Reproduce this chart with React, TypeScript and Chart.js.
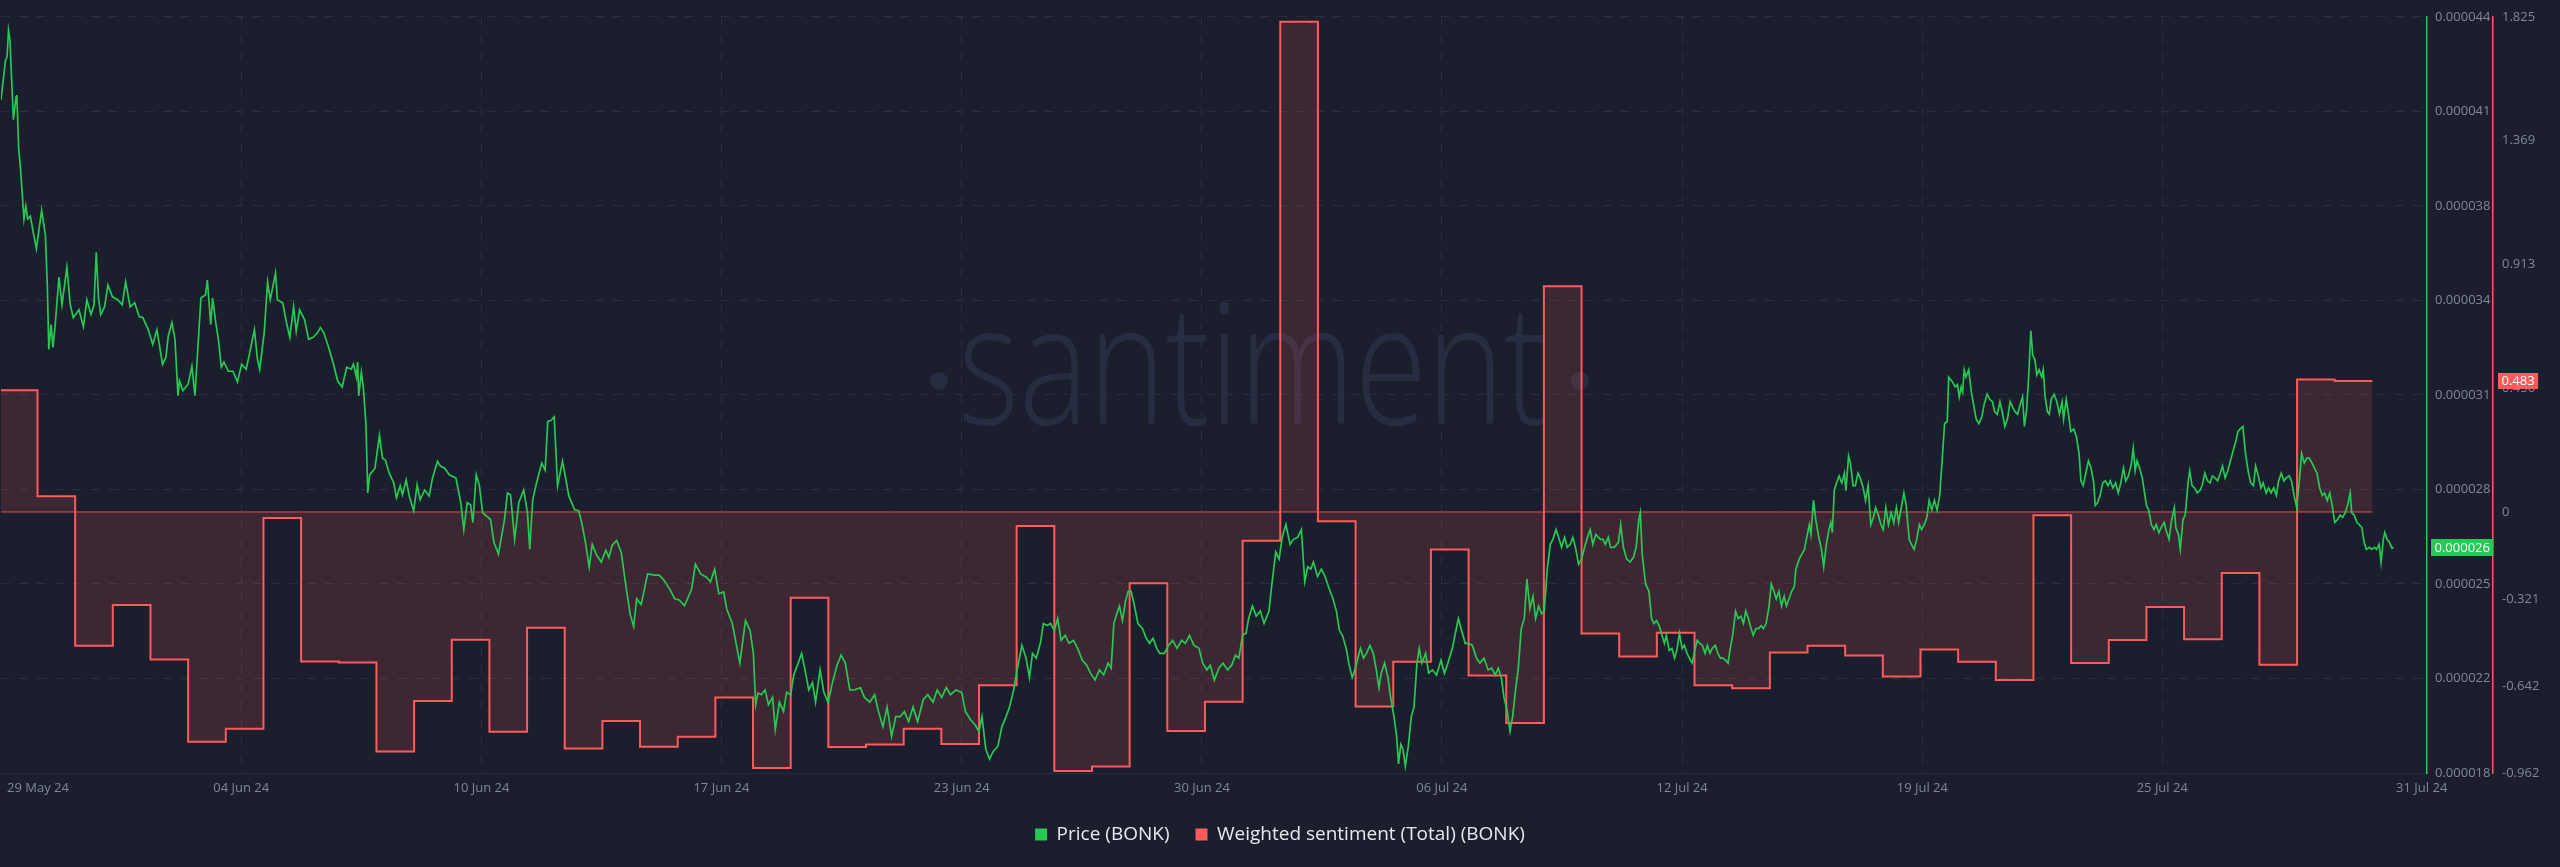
import React, { useEffect, useRef } from 'react';
import { Chart, registerables } from 'chart.js';

Chart.register(...registerables);

const BG = '#1b1e2c';
const GREEN = '#26c953';
const RED = '#ff5b5b';
const GRID = '#2a2e42';
const TICK = '#80869b';

// Price (BONK) in micro-USD (1e-6 USD); [days since 29 May 24 00:00, price]
const pricePoints: [number, number][] = [
[0.03,41.24],[0.15,42.58],[0.19,42.68],[0.23,43.59],[0.27,43.25],[0.31,42.01],[0.36,40.57],[0.43,41.34],[0.45,41.4],[0.50,39.6],[0.55,38.9],[0.64,37.21],[0.69,37.65],[0.74,37.21],[0.81,37.3],[0.88,36.8],[0.97,36.2],[1.11,37.5],[1.21,36.65],[1.26,34.97],[1.30,32.79],[1.36,33.63],[1.41,32.86],[1.47,33.63],[1.57,35.24],[1.65,34.3],[1.78,35.57],[1.87,34.3],[1.95,33.86],[2.10,34.13],[2.22,33.56],[2.31,34.47],[2.42,33.97],[2.50,34.3],[2.56,36.08],[2.62,34.53],[2.68,33.97],[2.78,34.23],[2.87,34.97],[2.99,34.57],[3.13,34.47],[3.25,34.3],[3.34,35.07],[3.46,34.23],[3.58,34.37],[3.70,33.9],[3.80,33.86],[3.94,33.46],[4.06,32.96],[4.17,33.46],[4.32,32.29],[4.41,32.52],[4.47,33.23],[4.57,33.7],[4.65,33.13],[4.73,31.22],[4.77,31.72],[4.86,31.39],[5.00,31.62],[5.10,32.22],[5.18,31.22],[5.34,34.53],[5.46,34.63],[5.51,35.14],[5.60,33.63],[5.65,34.53],[5.73,33.73],[5.81,33.06],[5.88,32.19],[5.95,32.36],[6.07,32.05],[6.19,32.05],[6.31,31.69],[6.42,32.29],[6.54,32.12],[6.61,32.52],[6.76,33.46],[6.84,32.46],[6.90,32.12],[7.02,33.36],[7.11,35.07],[7.18,34.47],[7.32,35.37],[7.37,34.47],[7.51,34.37],[7.61,33.7],[7.70,33.2],[7.80,34.23],[7.87,33.4],[7.96,34.13],[8.09,33.8],[8.20,33.13],[8.32,33.2],[8.44,33.36],[8.51,33.53],[8.60,33.36],[8.73,32.86],[8.86,32.29],[8.97,31.72],[9.09,31.52],[9.21,32.19],[9.33,32.12],[9.39,32.29],[9.47,31.85],[9.50,32.36],[9.53,31.22],[9.60,32.02],[9.65,31.52],[9.72,30.28],[9.74,29.37],[9.77,27.93],[9.82,28.54],[9.96,28.77],[10.08,29.88],[10.16,29.11],[10.24,29.04],[10.34,28.6],[10.46,28.27],[10.53,27.77],[10.63,28.17],[10.69,27.87],[10.79,28.37],[10.87,27.83],[10.99,27.33],[11.08,28.2],[11.16,27.7],[11.28,28.03],[11.40,27.83],[11.49,28.44],[11.62,29.0],[11.70,28.84],[11.81,28.77],[11.94,28.54],[12.11,28.44],[12.24,27.6],[12.32,26.69],[12.41,27.6],[12.50,27.53],[12.56,26.93],[12.65,28.54],[12.73,28.2],[12.82,27.26],[13.03,27.03],[13.12,26.26],[13.24,25.86],[13.40,27.03],[13.48,27.93],[13.56,27.87],[13.67,26.36],[13.78,27.6],[13.91,28.03],[14.01,27.26],[14.07,26.02],[14.15,27.7],[14.25,28.27],[14.39,28.94],[14.48,28.7],[14.55,30.35],[14.63,30.38],[14.72,30.51],[14.81,28.17],[14.94,29.0],[15.11,27.83],[15.26,27.36],[15.37,27.33],[15.45,26.93],[15.55,26.26],[15.65,25.42],[15.73,26.19],[15.85,25.82],[15.97,25.59],[16.09,25.99],[16.17,25.75],[16.26,26.16],[16.38,26.32],[16.50,25.92],[16.62,24.82],[16.74,23.81],[16.83,23.41],[16.91,24.35],[17.03,24.15],[17.20,25.19],[17.39,25.15],[17.51,25.15],[17.63,24.98],[17.80,24.65],[17.92,24.35],[18.04,24.31],[18.18,24.11],[18.37,24.68],[18.47,25.52],[18.61,25.19],
[18.76,25.08],[18.87,24.92],[18.98,25.35],[19.09,24.52],[19.22,24.58],[19.30,24.01],[19.45,23.51],[19.55,22.84],[19.65,22.17],[19.80,23.61],[19.92,23.28],[20.01,22.5],[20.07,20.76],[20.13,21.16],[20.22,21.1],[20.32,21.26],[20.41,20.76],[20.52,21.01],[20.59,19.92],[20.70,20.85],[20.81,20.53],[20.89,21.18],[21.00,21.1],[21.08,21.77],[21.20,22.17],[21.29,22.5],[21.38,21.94],[21.48,21.26],[21.58,21.51],[21.66,20.85],[21.78,21.94],[21.88,21.18],[21.99,20.85],[22.11,21.51],[22.23,22.1],[22.34,22.44],[22.45,22.17],[22.57,21.26],[22.69,21.26],[22.85,21.34],[22.96,21.01],[23.10,20.85],[23.23,21.1],[23.33,20.53],[23.45,20.02],[23.56,20.68],[23.68,19.69],[23.79,20.36],[23.91,20.36],[24.02,20.53],[24.13,20.19],[24.25,20.68],[24.37,20.19],[24.52,20.93],[24.64,21.1],[24.78,20.85],[24.89,21.26],[25.01,21.01],[25.13,21.34],[25.24,21.1],[25.39,21.26],[25.54,21.18],[25.64,20.53],[25.77,20.26],[25.89,20.09],[26.00,19.86],[26.08,20.36],[26.18,19.25],[26.28,18.92],[26.38,19.19],[26.50,19.35],[26.61,20.02],[26.72,20.36],[26.81,20.68],[26.92,21.26],[27.02,22.0],[27.14,22.77],[27.25,22.34],[27.34,21.68],[27.42,22.5],[27.52,22.34],[27.63,22.84],[27.71,23.51],[27.81,23.44],[27.90,23.51],[28.00,23.28],[28.09,23.68],[28.18,22.94],[28.29,23.11],[28.39,22.84],[28.51,22.94],[28.62,22.67],[28.74,22.27],[28.86,22.1],[28.96,21.83],[29.08,21.6],[29.20,21.94],[29.31,21.77],[29.43,22.17],[29.51,22.0],[29.58,23.51],[29.66,23.84],[29.73,24.1],[29.81,23.61],[29.89,24.26],[29.96,24.6],[30.04,24.6],[30.13,24.1],[30.22,23.51],[30.34,23.34],[30.44,23.01],[30.53,22.84],[30.62,23.01],[30.72,22.67],[30.80,22.5],[30.92,22.5],[31.03,22.77],[31.14,22.94],[31.26,22.67],[31.38,22.94],[31.48,22.84],[31.59,23.11],[31.71,22.77],[31.84,22.67],[31.94,22.17],[32.05,21.94],[32.14,22.1],[32.25,21.6],[32.37,22.0],[32.48,22.17],[32.60,21.94],[32.71,22.1],[32.81,22.44],[32.90,22.34],[33.00,23.11],[33.09,23.18],[33.16,23.68],[33.26,24.1],[33.36,23.76],[33.47,23.93],[33.57,23.51],[33.70,23.93],[33.77,24.76],[33.88,25.93],[33.97,25.69],[34.05,26.43],[34.15,26.86],[34.26,26.19],[34.35,26.36],[34.46,26.43],[34.56,26.69],[34.65,24.93],[34.73,25.43],[34.81,25.35],[34.88,25.59],[34.99,25.1],[35.09,25.35],[35.19,25.1],[35.30,24.68],[35.40,24.35],[35.49,23.93],[35.57,23.28],[35.65,23.11],[35.75,22.67],[35.83,22.1],[35.91,21.68],[35.98,21.94],[36.06,22.34],[36.13,22.67],[36.21,22.34],[36.29,22.5],[36.38,22.77],[36.47,22.5],[36.55,21.94],[36.62,21.34],[36.68,21.83],[36.77,22.17],[36.86,21.68],[36.93,21.01],[37.02,20.36],[37.09,19.69],[37.14,18.76],[37.20,19.42],[37.26,19.25],[37.32,18.68],[37.40,19.35],[37.48,20.36],[37.55,20.68],[37.63,22.17],[37.69,22.67],[37.76,22.17],[37.86,22.5],[37.94,21.83],[38.04,21.94],[38.15,21.77],[38.27,22.27],[38.36,21.83],[38.45,22.17],[38.57,22.67],[38.65,23.18],[38.73,23.68],[38.80,23.34],[38.91,22.84],[39.00,22.84],[39.10,22.77],[39.21,22.34],[39.30,22.17],[39.41,22.34],[39.52,21.94],[39.61,22.0],[39.71,21.77],[39.79,22.0],[39.87,21.68],[39.94,21.01],[40.02,20.6],[40.10,19.86],[40.17,20.36],[40.24,21.18],[40.32,22.0],[40.40,23.34],[40.48,23.68],[40.55,25.02],[40.63,24.01],[40.71,24.43],[40.78,23.68],[40.86,24.1],[40.94,23.84],[41.01,23.93],[41.09,25.35],[41.17,26.19],[41.24,26.36],[41.32,26.69],[41.39,26.43],[41.47,26.09],[41.55,26.43],[41.62,26.09],[41.70,26.19],[41.77,26.43],[41.85,26.02],[41.92,25.52],[42.00,25.69],[42.08,26.09],[42.16,26.43],[42.23,26.69],[42.30,26.19],[42.38,26.53],[42.50,26.36],
[42.57,26.36],[42.63,26.19],[42.71,26.43],[42.77,26.09],[42.87,26.09],[42.98,26.26],[43.04,26.86],[43.11,26.09],[43.20,25.69],[43.29,25.59],[43.38,25.75],[43.45,26.09],[43.52,27.02],[43.56,27.26],[43.61,25.86],[43.70,24.85],[43.79,24.6],[43.86,23.68],[43.92,23.51],[43.99,23.61],[44.06,23.44],[44.12,23.18],[44.20,22.84],[44.25,23.11],[44.33,22.6],[44.40,22.67],[44.47,22.34],[44.53,22.6],[44.60,23.18],[44.67,22.67],[44.73,22.77],[44.80,22.5],[44.89,22.27],[44.94,22.17],[44.99,22.5],[45.07,22.94],[45.14,22.84],[45.21,22.77],[45.28,22.5],[45.34,22.77],[45.41,22.5],[45.47,22.67],[45.55,22.77],[45.62,22.5],[45.69,22.34],[45.75,22.34],[45.82,22.27],[45.89,22.17],[45.95,22.67],[46.02,23.18],[46.09,23.93],[46.16,23.68],[46.23,23.76],[46.30,23.51],[46.36,23.93],[46.43,23.68],[46.50,23.34],[46.56,23.11],[46.63,23.34],[46.70,23.34],[46.77,23.44],[46.83,23.34],[46.90,23.51],[46.97,24.01],[47.04,24.85],[47.11,24.6],[47.17,24.35],[47.24,24.6],[47.31,24.1],[47.38,24.43],[47.44,24.1],[47.51,24.35],[47.58,24.6],[47.65,24.76],[47.69,25.35],[47.78,25.69],[47.85,25.86],[47.92,26.02],[47.98,26.43],[48.05,26.86],[48.09,26.53],[48.16,27.68],[48.22,27.02],[48.30,26.43],[48.37,26.02],[48.43,25.43],[48.50,26.19],[48.57,26.69],[48.62,26.93],[48.66,26.59],[48.71,28.01],[48.77,28.27],[48.84,28.51],[48.91,28.27],[48.98,28.6],[49.02,28.01],[49.09,29.18],[49.14,28.94],[49.21,28.18],[49.27,28.18],[49.34,28.6],[49.40,28.44],[49.48,28.1],[49.54,27.68],[49.61,28.18],[49.68,26.86],[49.75,27.1],[49.81,27.43],[49.88,27.18],[49.95,26.86],[50.01,26.69],[50.08,27.43],[50.15,26.86],[50.22,27.26],[50.29,26.93],[50.36,27.43],[50.42,26.93],[50.49,27.43],[50.56,27.93],[50.62,27.51],[50.70,26.36],[50.76,26.19],[50.83,26.02],[50.90,26.36],[50.97,26.86],[51.03,26.69],[51.10,26.86],[51.17,27.1],[51.23,27.68],[51.30,27.35],[51.37,27.68],[51.44,27.35],[51.51,27.85],[51.57,28.94],[51.64,30.28],[51.71,30.35],[51.75,31.85],[51.85,31.69],[51.92,31.52],[51.98,31.6],[52.03,31.18],[52.08,31.52],[52.12,31.35],[52.16,32.1],[52.21,31.85],[52.28,32.1],[52.35,31.35],[52.42,30.85],[52.48,30.43],[52.55,30.28],[52.63,30.51],[52.69,30.93],[52.77,31.27],[52.84,31.1],[52.91,31.02],[52.97,30.68],[53.04,30.6],[53.11,31.02],[53.17,30.68],[53.24,30.18],[53.31,30.43],[53.38,31.02],[53.44,30.85],[53.51,30.68],[53.58,30.6],[53.65,30.93],[53.71,31.18],[53.76,30.18],[53.82,30.77],[53.88,32.02],[53.93,33.43],[53.98,32.6],[54.04,32.43],[54.09,31.93],[54.15,32.1],[54.22,31.85],[54.26,32.1],[54.31,31.18],[54.37,30.68],[54.42,30.6],[54.47,31.1],[54.55,31.27],[54.62,31.02],[54.69,30.6],[54.76,31.02],[54.80,30.43],[54.87,31.1],[54.94,30.51],[54.99,30.01],[55.07,30.1],[55.14,29.84],[55.21,29.27],[55.26,28.34],[55.32,28.18],[55.39,28.6],[55.46,29.02],[55.53,28.77],[55.60,28.27],[55.64,27.51],[55.70,27.6],[55.77,27.85],[55.84,28.27],[55.91,28.34],[55.98,28.18],[56.04,28.34],[56.11,28.1],[56.18,28.27],[56.25,27.93],[56.32,28.27],[56.39,28.77],[56.45,28.34],[56.52,28.51],[56.59,28.84],[56.65,29.44],[56.70,28.68],[56.75,29.02],[56.82,28.77],[56.89,28.44],[56.94,28.01],[57.00,27.51],[57.06,27.35],[57.13,26.86],[57.20,26.69],[57.26,26.86],[57.33,26.59],[57.39,26.76],[57.47,26.93],[57.54,26.59],[57.60,26.36],[57.67,27.02],[57.74,27.43],[57.78,26.76],[57.85,26.53],[57.90,26.02],[57.97,27.02],[58.03,27.18],[58.11,28.34],[58.15,28.68],[58.21,28.18],[58.28,28.1],[58.35,27.93],[58.42,28.01],[58.48,28.18],[58.55,28.6],[58.62,28.34],[58.69,28.27],[58.75,28.51],[58.82,28.44],[58.89,28.34],[58.96,28.6],[59.02,28.84],[59.09,28.44],[59.16,28.68],[59.23,29.02],[59.30,29.35],[59.36,29.61],[59.43,30.01],[59.49,30.1],[59.56,30.18],[59.63,29.27],[59.70,28.68],[59.77,28.27],[59.84,28.18],[59.90,28.84],[59.97,28.51],[60.04,28.1],[60.10,28.27],[60.18,27.93],[60.24,28.1],[60.31,27.93],[60.38,28.1],[60.45,27.85],[60.51,28.34],[60.58,28.6],[60.65,28.34],[60.71,28.44],[60.79,28.51],[60.85,28.34],[60.92,27.85],[60.99,27.43],[61.06,28.34],[61.12,29.27],[61.19,28.94],[61.26,29.11],[61.32,29.11],[61.40,28.94],[61.46,28.77],[61.53,28.6],[61.60,28.1],[61.67,27.85],[61.73,27.93],[61.80,27.68],[61.87,27.93],[61.93,27.51],[62.00,26.93],[62.07,27.02],[62.14,27.18],[62.21,27.1],[62.28,27.26],[62.34,27.51],[62.41,27.93],[62.45,27.26],[62.52,27.18],[62.59,26.93],[62.65,26.86],[62.72,26.76],[62.78,26.26],[62.84,26.02],[62.92,26.09],[62.98,26.02],[63.05,26.09],[63.11,26.02],[63.18,26.19],[63.23,25.59],[63.29,26.36],[63.33,26.59],[63.39,26.36],[63.45,26.26],[63.52,26.06],[63.56,26.09]
];

// Weighted sentiment (Total) (BONK): one value per day, 29 May 24 .. 30 Jul 24
const sentimentValues: number[] = [
  0.449, 0.058, -0.493, -0.343, -0.544, -0.847, -0.799, -0.022, -0.551, -0.555,
  -0.883, -0.697, -0.471, -0.810, -0.427, -0.872, -0.770, -0.865, -0.828, -0.684,
  -0.944, -0.316, -0.866, -0.857, -0.799, -0.855, -0.639, -0.052, -0.955, -0.938,
  -0.263, -0.807, -0.699, -0.106, 1.807, -0.034, -0.717, -0.552, -0.138, -0.603,
  -0.778, 0.832, -0.448, -0.533, -0.445, -0.639, -0.650, -0.518, -0.493, -0.529,
  -0.606, -0.507, -0.552, -0.619, -0.012, -0.557, -0.472, -0.350, -0.469, -0.225,
  -0.563, 0.488, 0.483,
];

const priceTicks = [18.45, 21.65, 24.85, 28.05, 31.25, 34.45, 37.65, 40.85, 44.05];
const sentimentTicks = [-0.962, -0.642, -0.321, 0, 0.456, 0.913, 1.369, 1.825];
const xTickDays = [0.19, 6.41, 12.79, 19.16, 25.54, 31.92, 38.29, 44.67, 51.05, 57.42, 64.99];
const xTickLabels = ['29 May 24', '04 Jun 24', '10 Jun 24', '17 Jun 24', '23 Jun 24', '30 Jun 24', '06 Jul 24', '12 Jul 24', '19 Jul 24', '25 Jul 24', '31 Jul 24'];

const FONT = 'Open Sans';

const watermarkPlugin = {
  id: 'watermark',
  beforeDatasetsDraw(chart: any) {
    const { ctx } = chart;
    ctx.save();
    ctx.fillStyle = '#272c40';
    ctx.font = `300 168px "${FONT}"`;
    ctx.textBaseline = 'alphabetic';
    ctx.textAlign = 'left';
    ctx.fillText('santiment', 958, 424, 590);
    ctx.beginPath();
    ctx.arc(939, 381, 9, 0, Math.PI * 2);
    ctx.fill();
    ctx.beginPath();
    ctx.arc(1580, 381, 9, 0, Math.PI * 2);
    ctx.fill();
    ctx.restore();
  },
};

function drawBadge(ctx: any, text: string, x: number, y: number, color: string, h: number) {
  const w = ctx.measureText(text).width + 7;
  ctx.fillStyle = color;
  ctx.fillRect(x, Math.round(y - h / 2), w, h);
  ctx.fillStyle = '#ffffff';
  ctx.fillText(text, x + w / 2, y + 0.5);
}

const badgePlugin = {
  id: 'badges',
  afterDraw(chart: any) {
    const { ctx, scales } = chart;
    const ys = scales.ySent;
    const yp = scales.yPrice;
    const lastS = sentimentValues[sentimentValues.length - 1];
    const lastP = pricePoints[pricePoints.length - 1][1];
    ctx.save();
    ctx.font = `13px "${FONT}"`;
    ctx.textBaseline = 'middle';
    ctx.textAlign = 'center';
    drawBadge(ctx, String(lastS), ys.left + 5, ys.getPixelForValue(lastS), RED, 16);
    drawBadge(ctx, (lastP / 1e6).toFixed(6), yp.left + 4, yp.getPixelForValue(lastP), GREEN, 17);
    ctx.restore();
  },
};

const legendFitPlugin = {
  id: 'legendFit',
  afterInit(chart: any) {
    const lg = chart.legend;
    if (!lg || lg.__patched) return;
    const orig = lg.fit.bind(lg);
    lg.fit = function () {
      orig();
      this.height = 68;
    };
    lg.__patched = true;
  },
};

export default function App() {
  const ref = useRef<HTMLCanvasElement | null>(null);

  useEffect(() => {
    document.body.style.margin = '0';
    document.body.style.background = BG;
    const canvas = ref.current;
    if (!canvas) return;
    Chart.defaults.font.family = FONT;

    const lastDay = sentimentValues.length;
    const sentimentData = sentimentValues.map((v, i) => ({ x: i, y: v }));
    sentimentData.push({ x: lastDay, y: sentimentValues[sentimentValues.length - 1] });

    const chart = new Chart(canvas, {
      type: 'line',
      data: {
        datasets: [
          {
            label: 'Price (BONK)',
            data: pricePoints.map(([d, v]) => ({ x: d, y: v })),
            yAxisID: 'yPrice',
            borderColor: GREEN,
            backgroundColor: GREEN,
            borderWidth: 1.7,
            pointRadius: 0,
            tension: 0,
            fill: false,
            order: 0,
          },
          {
            label: 'Weighted sentiment (Total) (BONK)',
            data: sentimentData,
            yAxisID: 'ySent',
            borderColor: RED,
            backgroundColor: 'rgba(255, 91, 91, 0.15)',
            borderWidth: 2,
            pointRadius: 0,
            stepped: 'before',
            fill: 'origin',
            order: 1,
          },
          {
            label: '',
            data: [{ x: 0, y: 0 }, { x: lastDay, y: 0 }],
            yAxisID: 'ySent',
            borderColor: 'rgba(255, 91, 91, 0.85)',
            backgroundColor: 'rgba(0,0,0,0)',
            borderWidth: 1,
            pointRadius: 0,
            fill: false,
            order: 2,
          },
        ],
      } as any,
      options: {
        responsive: false,
        animation: false,
        devicePixelRatio: 1,
        events: [],
        layout: { padding: { top: 9, left: 0, right: 0, bottom: 0 }, autoPadding: false },
        plugins: {
          tooltip: { enabled: false },
          legend: {
            display: true,
            position: 'bottom',
            labels: {
              boxWidth: 12,
              boxHeight: 12,
              padding: 26,
              color: '#e8eaf0',
              font: { family: FONT, size: 19 },
              generateLabels: (c: any) =>
                (Chart.defaults.plugins.legend.labels.generateLabels as any)(c)
                  .filter((l: any) => l.datasetIndex !== 2)
                  .map((l: any) => ({
                    ...l,
                    fillStyle: c.data.datasets[l.datasetIndex].borderColor,
                    strokeStyle: 'rgba(0,0,0,0)',
                    lineWidth: 0,
                  })),
            },
          },
        },
        scales: {
          x: {
            type: 'linear',
            min: 0.03,
            max: 64.45,
            afterBuildTicks: (s: any) => {
              s.ticks = xTickDays.map((v) => ({ value: v }));
            },
            afterFit: (s: any) => {
              s.height = 26;
            },
            ticks: {
              autoSkip: false,
              maxRotation: 0,
              align: 'inner',
              padding: 7,
              color: TICK,
              font: { family: FONT, size: 13 },
              callback: (_v: any, i: number) => xTickLabels[i],
            },
            grid: {
              color: (c: any) =>
                c.index === 0 || c.index === xTickDays.length - 1 ? 'rgba(0,0,0,0)' : GRID,
              drawTicks: false,
              lineWidth: 1,
            },
            border: { display: true, color: '#272b3d', width: 1, dash: [9, 9] },
          },
          yPrice: {
            type: 'linear',
            position: 'right',
            weight: 0,
            min: 18.45,
            max: 44.05,
            afterBuildTicks: (s: any) => {
              s.ticks = priceTicks.map((v) => ({ value: v }));
            },
            afterFit: (s: any) => {
              s.width = 66;
            },
            ticks: {
              autoSkip: false,
              padding: 8,
              color: TICK,
              font: { family: FONT, size: 13 },
              callback: (v: any) => (Number(v) / 1e6).toFixed(6),
            },
            grid: { color: GRID, drawTicks: false, lineWidth: 1 },
            border: { display: true, color: GREEN, width: 1.5, dash: [9, 9] },
          },
          ySent: {
            type: 'linear',
            position: 'right',
            weight: 1,
            min: -0.962,
            max: 1.825,
            afterBuildTicks: (s: any) => {
              s.ticks = sentimentTicks.map((v) => ({ value: v }));
            },
            afterFit: (s: any) => {
              s.width = 67;
            },
            ticks: {
              autoSkip: false,
              padding: 9,
              color: TICK,
              font: { family: FONT, size: 13 },
              callback: (v: any) => String(v),
            },
            grid: { display: false, drawTicks: false },
            border: { display: true, color: RED, width: 1.5 },
          },
        },
      } as any,
      plugins: [watermarkPlugin, badgePlugin, legendFitPlugin] as any,
    });

    return () => {
      chart.destroy();
    };
  }, []);

  return (
    <div style={{ position: 'absolute', left: 0, top: 0, width: 2560, height: 867, background: BG }}>
      <canvas ref={ref} width={2560} height={867} style={{ display: 'block' }} />
    </div>
  );
}
